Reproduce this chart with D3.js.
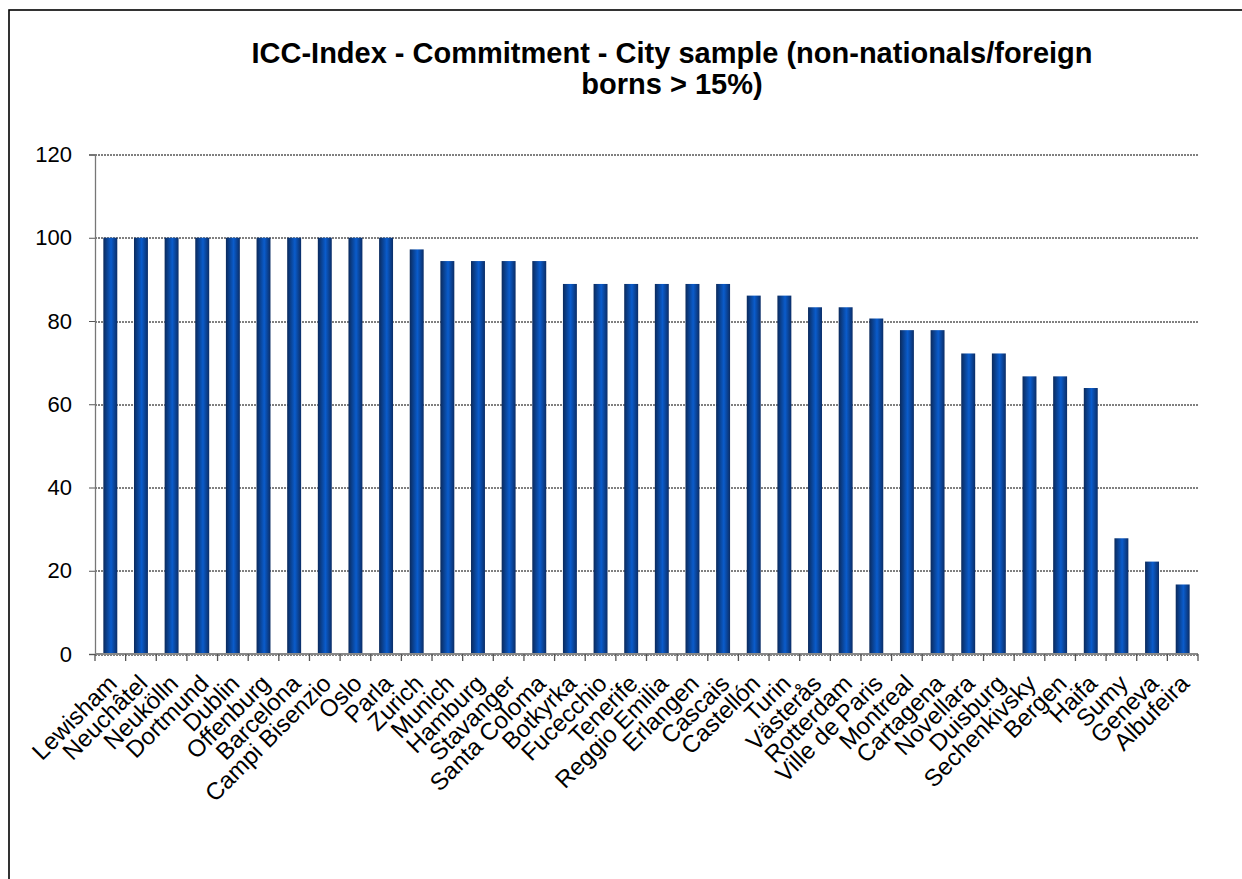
<!DOCTYPE html>
<html>
<head>
<meta charset="utf-8">
<script src="https://cdn.jsdelivr.net/npm/d3@7"></script>
<style>
  html, body { margin: 0; padding: 0; background: #fff; }
  svg { display: block; font-family: "Liberation Sans", Arial, sans-serif; }
</style>
</head>
<body>
<svg id="chart" width="1242" height="879"></svg>
<script>
const cities = ['Lewisham', 'Neuchâtel', 'Neukölln', 'Dortmund', 'Dublin', 'Offenburg',
  'Barcelona', 'Campi Bisenzio', 'Oslo', 'Parla', 'Zurich', 'Munich', 'Hamburg',
  'Stavanger', 'Santa Coloma', 'Botkyrka', 'Fucecchio', 'Tenerife', 'Reggio Emilia',
  'Erlangen', 'Cascais', 'Castellón', 'Turin', 'Västerås', 'Rotterdam', 'Ville de Paris',
  'Montreal', 'Cartagena', 'Novellara', 'Duisburg', 'Sechenkivsky', 'Bergen', 'Haifa',
  'Sumy', 'Geneva', 'Albufeira']
const commitment = [100, 100, 100, 100, 100, 100, 100, 100, 100, 100, 97.2, 94.4, 94.4,
  94.4, 94.4, 88.9, 88.9, 88.9, 88.9, 88.9, 88.9, 86.1, 86.1, 83.3, 83.3, 80.6,
  77.8, 77.8, 72.2, 72.2, 66.7, 66.7, 63.9, 27.8, 22.2, 16.7]
const yTicks = [0, 20, 40, 60, 80, 100, 120]
const titleLines = ['ICC-Index - Commitment - City sample (non-nationals/foreign', 'borns > 15%)']

const svg = d3.select('#chart')
const margin = { left: 95, right: 44, top: 154.5, bottom: 225 }
const width = 1242
const height = 879
const plotW = width - margin.left - margin.right
const plotH = height - margin.top - margin.bottom

// chart area border (only top and left visible)
svg.append('rect')
  .attr('x', 9).attr('y', 10)
  .attr('width', 1300).attr('height', 1000)
  .attr('fill', 'none')
  .attr('stroke', '#000')
  .attr('stroke-width', 1.6)

// bar gradient
const defs = svg.append('defs')
const grad = defs.append('linearGradient').attr('id', 'barGrad')
  .attr('x1', '0%').attr('x2', '100%').attr('y1', '0%').attr('y2', '0%')
grad.append('stop').attr('offset', '0%').attr('stop-color', '#0b2a5c')
grad.append('stop').attr('offset', '55%').attr('stop-color', '#0a5ccc')
grad.append('stop').attr('offset', '100%').attr('stop-color', '#0b2d66')

// title
svg.append('text')
  .attr('x', 672)
  .attr('y', 63)
  .attr('text-anchor', 'middle')
  .style('font-size', '29px')
  .style('font-weight', 'bold')
  .selectAll('tspan')
  .data(titleLines)
  .join('tspan')
  .attr('x', 672)
  .attr('dy', (d, i) => (i === 0 ? 0 : 31))
  .text((d) => d)

const g = svg.append('g').attr('transform', `translate(${margin.left},${margin.top})`)

const x = d3.scaleBand().domain(cities).range([0, plotW]).paddingInner(0.545).paddingOuter(0.2725)
const xb = d3.scaleBand().domain(cities).range([0, plotW])
const y = d3.scaleLinear().domain([0, 120]).range([plotH, 0])

// gridlines
g.append('g')
  .selectAll('line')
  .data(yTicks)
  .join('line')
  .attr('x1', 0)
  .attr('x2', plotW)
  .attr('y1', (d) => Math.round(y(d)) + 0.5)
  .attr('y2', (d) => Math.round(y(d)) + 0.5)
  .attr('stroke', '#000')
  .attr('stroke-width', 1)
  .attr('stroke-dasharray', '2,1')

// bars
g.append('g')
  .selectAll('rect')
  .data(commitment)
  .join('rect')
  .attr('x', (d, i) => x(cities[i]))
  .attr('y', (d) => y(d))
  .attr('width', x.bandwidth())
  .attr('height', (d) => plotH - y(d))
  .attr('fill', 'url(#barGrad)')

// y axis
const yAxis = g.append('g')
  .call(d3.axisLeft(y).tickValues(yTicks).tickSize(6).tickPadding(17))
yAxis.select('.domain').attr('stroke', '#777').attr('stroke-width', 1.3)
yAxis.selectAll('.tick line').attr('stroke', '#555')
yAxis.selectAll('text')
  .style('font-size', '22px')
  .style('font-family', '"Liberation Sans", Arial, sans-serif')
  .attr('fill', '#000')

// x axis line and ticks at category boundaries
g.append('line')
  .attr('x1', 0).attr('x2', plotW)
  .attr('y1', plotH).attr('y2', plotH)
  .attr('stroke', '#888')
  .attr('stroke-width', 2)
g.append('g')
  .selectAll('line')
  .data(cities.concat(['__end']))
  .join('line')
  .attr('x1', (d, i) => i < cities.length ? xb(d) : plotW)
  .attr('x2', (d, i) => i < cities.length ? xb(d) : plotW)
  .attr('y1', plotH)
  .attr('y2', plotH + 7)
  .attr('stroke', '#555')
  .attr('stroke-width', 1.3)

// x labels, rotated
g.append('g')
  .selectAll('text')
  .data(cities)
  .join('text')
  .attr('transform', (d) => `translate(${xb(d) + xb.bandwidth() / 2 + 8},${plotH + 31}) rotate(-45)`)
  .attr('text-anchor', 'end')
  .style('font-size', '24px')
  .text((d) => d)
</script>
</body>
</html>
